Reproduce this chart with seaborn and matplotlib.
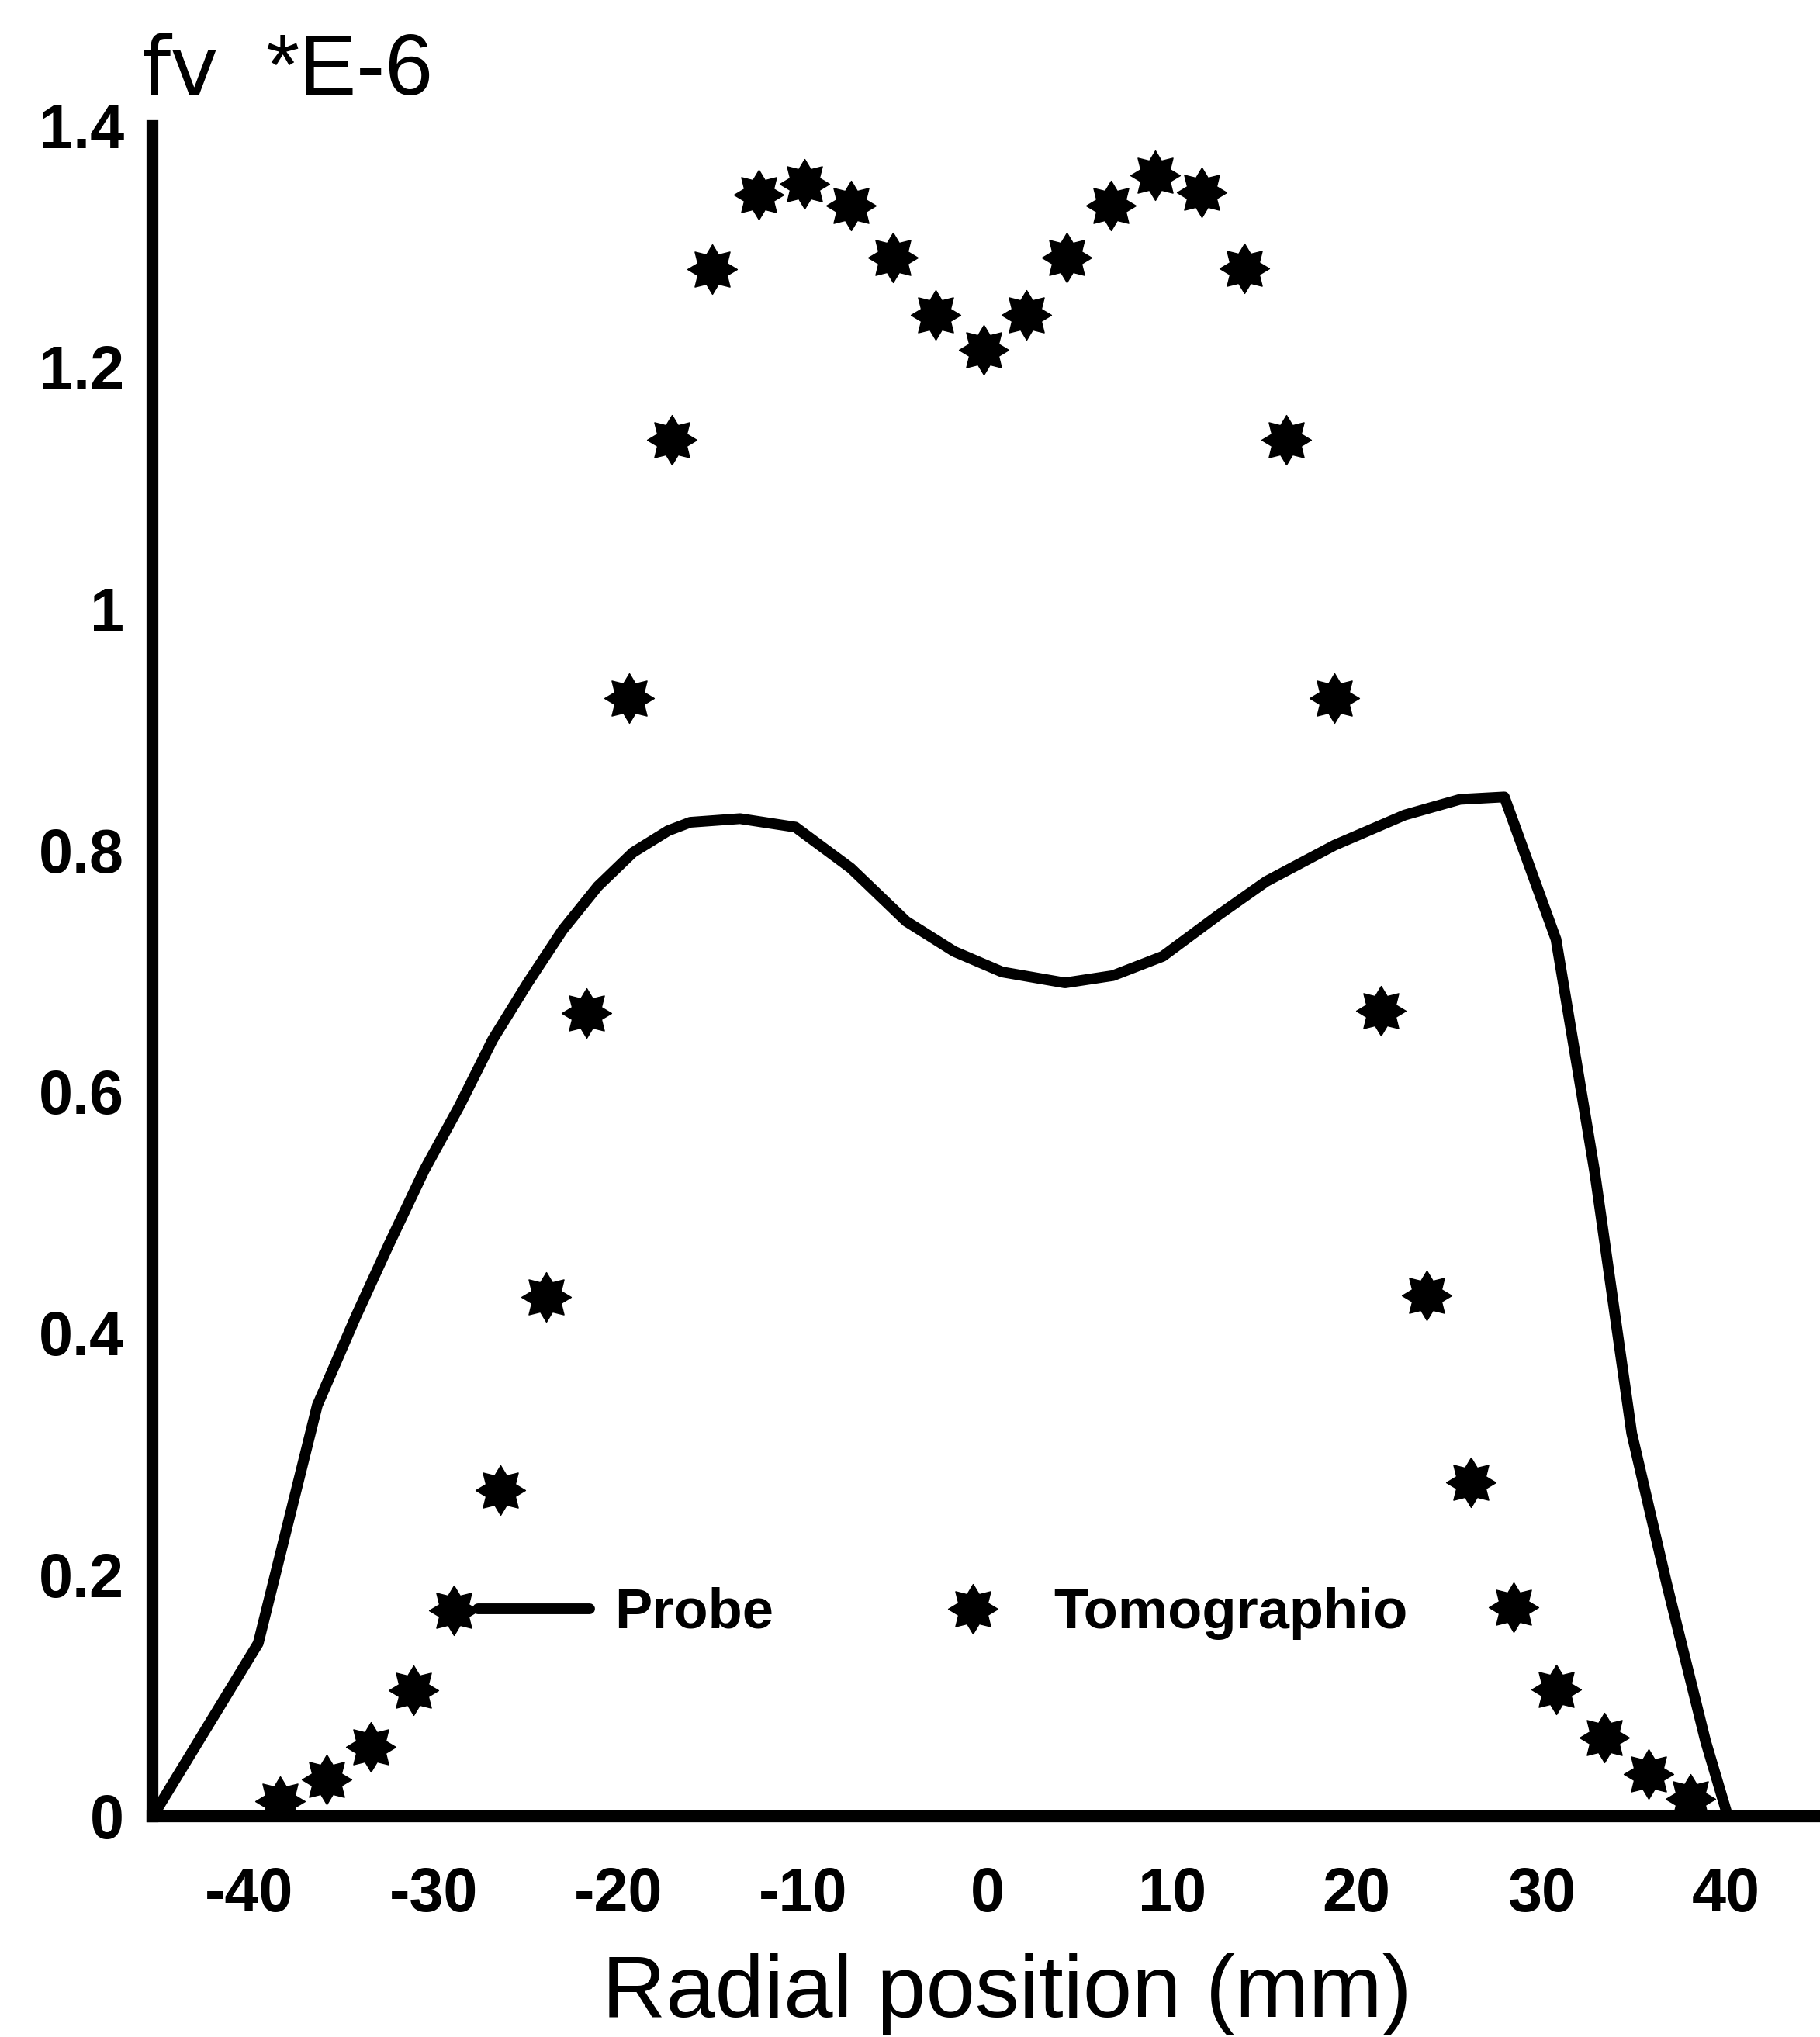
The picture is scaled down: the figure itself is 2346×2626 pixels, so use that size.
import matplotlib
matplotlib.use("Agg")
import matplotlib.pyplot as plt
import seaborn as sns
import pandas as pd
from matplotlib.path import Path
from matplotlib.lines import Line2D

# ---------------- data ----------------
probe_x = [-45.2, -39.5, -36.3, -34.2, -32.4, -30.5, -28.6, -26.8, -24.9, -23.0,
           -21.1, -19.2, -17.3, -16.1, -13.4, -10.4, -7.4, -4.4, -1.8, 0.8,
           4.2, 6.8, 9.5, 12.5, 15.1, 18.8, 22.6, 25.6, 28.0, 30.8,
           32.9, 34.9, 36.8, 38.9, 40.1]
probe_y = [0.0, 0.143, 0.340, 0.414, 0.474, 0.535, 0.588, 0.643, 0.690, 0.734,
           0.770, 0.798, 0.816, 0.823, 0.826, 0.819, 0.785, 0.741, 0.716, 0.699,
           0.690, 0.696, 0.712, 0.746, 0.774, 0.804, 0.829, 0.842, 0.844, 0.726,
           0.533, 0.317, 0.192, 0.062, 0.0]

tomo_x = [-38.3, -35.8, -33.4, -31.1, -28.9, -26.4, -23.9, -21.7, -19.4, -17.1,
          -14.9, -12.4, -9.9, -7.4, -5.1, -2.8, -0.2, 2.1, 4.3, 6.7,
          9.1, 11.6, 13.9, 16.2, 18.8, 21.3, 23.8, 26.2, 28.5, 30.8,
          33.4, 35.8, 38.1]
tomo_y = [0.012, 0.030, 0.057, 0.104, 0.170, 0.270, 0.430, 0.665, 0.926, 1.140,
          1.281, 1.343, 1.352, 1.334, 1.291, 1.243, 1.214, 1.243, 1.291, 1.334,
          1.359, 1.345, 1.282, 1.140, 0.926, 0.667, 0.431, 0.276, 0.173, 0.105,
          0.065, 0.035, 0.014]

x_ticks = [-40, -30, -20, -10, 0, 10, 20, 30, 40]
x_ticklabels = ["-40", "-30", "-20", "-10", "0", "10", "20", "30", "40"]
y_ticks = [0, 0.2, 0.4, 0.6, 0.8, 1.0, 1.2, 1.4]
y_ticklabels = ["0", "0.2", "0.4", "0.6", "0.8", "1", "1.2", "1.4"]
series_names = ["Probe", "Tomographio"]
x_label = "Radial position (mm)"
y_label_name = "fv"
y_label_unit = "*E-6"

# ---------------- style ----------------
sns.set_theme(style="white")
plt.rcParams["font.family"] = ["Liberation Sans", "DejaVu Sans"]
plt.rcParams["text.color"] = "black"

fig = plt.figure(figsize=(23.46, 26.26), dpi=100)
fig.patch.set_facecolor("white")
ax = fig.add_axes([0.08355, 0.10853, 0.91645, 0.82978])
ax.set_facecolor("white")

probe_df = pd.DataFrame({"x": probe_x, "y": probe_y})
tomo_df = pd.DataFrame({"x": tomo_x, "y": tomo_y})

star = Path.unit_regular_star(8, 0.64)

sns.lineplot(data=probe_df, x="x", y="y", ax=ax, color="black", linewidth=10,
             sort=False, estimator=None, zorder=3)
sns.scatterplot(data=tomo_df, x="x", y="y", ax=ax, marker=star, s=2116,
                color="black", edgecolor="black", linewidth=1, zorder=4)

ax.set_xlim(-45.25, 45.1)
ax.set_ylim(0, 1.4)

ax.set_xticks(x_ticks)
ax.set_xticklabels(x_ticklabels, fontsize=57, fontweight="bold")
ax.set_yticks(y_ticks)
ax.set_yticklabels(y_ticklabels, fontsize=57, fontweight="bold")
ax.tick_params(axis="both", direction="in", length=27, width=8, color="black",
               labelcolor="black")
ax.tick_params(axis="x", pad=47)
ax.tick_params(axis="y", pad=26)

sns.despine(ax=ax)
for side in ("left", "bottom"):
    ax.spines[side].set_linewidth(11)
    ax.spines[side].set_color("black")
    ax.spines[side].set_capstyle("projecting")

ax.set_xlabel(x_label, fontsize=82, color="black", va="baseline")
ax.xaxis.set_label_coords(0.5126, -0.1189)
ax.set_ylabel("")

ax.text(-0.006, 1.0184, y_label_name, transform=ax.transAxes, fontsize=76,
        ha="left", va="baseline", color="black", family=["DejaVu Sans"])
ax.text(0.068, 1.0184, y_label_unit, transform=ax.transAxes, fontsize=80,
        ha="left", va="baseline", color="black")

handles = [
    Line2D([], [], color="black", linewidth=10),
    Line2D([], [], color="black", marker=star, markersize=46, linestyle="none"),
]
ax.legend(handles, series_names, loc="center left", bbox_to_anchor=(0.1953, 0.1198),
          ncol=2, frameon=False, prop={"size": 52, "weight": "bold"},
          labelcolor="black",
          handlelength=1.99, handletextpad=0.45, columnspacing=2.56,
          borderpad=0, borderaxespad=0)

fig.savefig("out.png", dpi=100, facecolor="white")
